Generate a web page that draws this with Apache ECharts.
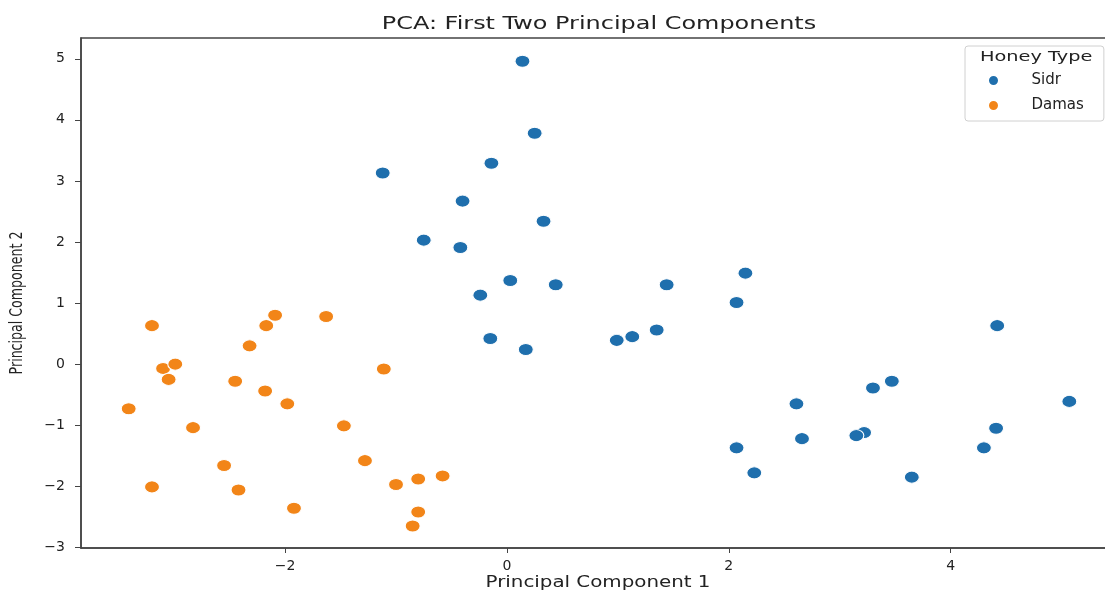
<!DOCTYPE html>
<html>
<head>
<meta charset="utf-8">
<script src="https://cdn.jsdelivr.net/npm/echarts@6/dist/echarts.min.js"></script>
<style>
  html, body { margin: 0; padding: 0; background: #fff; }
  #main { width: 1105px; height: 593px; }
</style>
</head>
<body>
<div id="main"></div>
<script>
  // PCA scores
  var sidrX = [0.14, 0.25, -0.14, -1.12, -0.40, 0.33, -0.75, -0.42, 0.03, 0.44, -0.24, 1.44, 2.15, 2.07, -0.15, 0.17,
               0.99, 1.13, 1.35, 4.42, 3.47, 3.30, 2.61, 5.07, 4.41, 3.22, 3.15, 2.66, 2.07, 4.30, 2.23, 3.65];
  var sidrY = [4.96, 3.78, 3.29, 3.13, 2.67, 2.34, 2.03, 1.91, 1.37, 1.30, 1.13, 1.30, 1.49, 1.01, 0.42, 0.24,
               0.39, 0.45, 0.56, 0.63, -0.28, -0.39, -0.65, -0.61, -1.05, -1.12, -1.17, -1.22, -1.37, -1.37, -1.78, -1.85];
  var damasX = [-3.20, -2.09, -2.17, -1.63, -2.32, -3.10, -2.99, -3.05, -2.45, -2.18, -1.98, -1.11, -3.41,
                -2.83, -1.47, -1.28, -2.55, -3.20, -2.42, -1.00, -0.80, -0.58, -1.92, -0.80, -0.85];
  var damasY = [0.63, 0.80, 0.63, 0.78, 0.30, -0.07, 0.00, -0.25, -0.28, -0.44, -0.65, -0.08, -0.73,
                -1.04, -1.01, -1.58, -1.66, -2.01, -2.06, -1.97, -1.88, -1.83, -2.36, -2.42, -2.65];
  var xTicks = [-2, 0, 2, 4];
  var yTicks = [-3, -2, -1, 0, 1, 2, 3, 4, 5];
  var honeyTypes = ['Sidr', 'Damas'];

  function pairs(xs, ys) {
    return xs.map(function (x, i) { return [x, ys[i]]; });
  }
  function fmt(v) {
    return v < 0 ? '\u2212' + Math.abs(v) : String(v);
  }

  var myChart = echarts.init(document.getElementById('main'));

  var lineCol = '#444';
  var textCol = '#222';

  var option = {
    backgroundColor: '#fff',
    // the source image is stretched sideways, so texts get a scaleX
    graphic: [
      {
        type: 'text', x: 599, y: 24, scaleX: 1.33, z: 100,
        style: { text: 'PCA: First Two Principal Components', font: '18px "DejaVu Sans"',
                 fill: textCol, align: 'center', verticalAlign: 'middle' }
      },
      {
        type: 'text', x: 598, y: 583, scaleX: 1.24, z: 100,
        style: { text: 'Principal Component 1', font: '16px "DejaVu Sans"',
                 fill: textCol, align: 'center', verticalAlign: 'middle' }
      },
      {
        type: 'text', x: 17, y: 303, rotation: Math.PI / 2, scaleY: 1.3, z: 100,
        style: { text: 'Principal Component 2', font: '14px "DejaVu Sans Condensed"',
                 fill: textCol, align: 'center', verticalAlign: 'middle' }
      },
      {
        type: 'text', x: 980, y: 57, scaleX: 1.38, z: 100,
        style: { text: 'Honey Type', font: '14px "DejaVu Sans"',
                 fill: textCol, align: 'left', verticalAlign: 'middle' }
      }
    ],
    legend: {
      data: honeyTypes,
      orient: 'vertical',
      left: 965, top: 46,
      padding: [27, 20, 8, 22],
      itemWidth: 14, itemHeight: 11, itemGap: 10,
      icon: 'circle',
      borderColor: '#d0d0d0', borderWidth: 1, borderRadius: 3,
      backgroundColor: 'rgba(255,255,255,0.8)',
      textStyle: { fontFamily: 'DejaVu Sans', fontSize: 15, color: textCol, padding: [0, 0, 0, 26] }
    },
    grid: {
      left: 81, top: 38, width: 1036, height: 510,
      outerBoundsMode: 'none',
      containLabel: false,
      show: true, borderColor: lineCol, borderWidth: 1.5
    },
    xAxis: {
      type: 'value',
      min: -3.84, max: 5.50,
      splitLine: { show: false },
      axisLine: { show: true, onZero: false, lineStyle: { color: lineCol, width: 1.5 } },
      axisTick: { show: true, length: 5, lineStyle: { color: lineCol }, customValues: xTicks },
      axisLabel: {
        customValues: xTicks, margin: 11, formatter: fmt,
        fontFamily: 'DejaVu Sans', fontSize: 14, color: textCol
      }
    },
    yAxis: {
      type: 'value',
      min: -3.01, max: 5.34,
      splitLine: { show: false },
      axisLine: { show: true, onZero: false, lineStyle: { color: lineCol, width: 1.5 } },
      axisTick: { show: true, length: 6, lineStyle: { color: lineCol }, customValues: yTicks },
      axisLabel: {
        customValues: yTicks, margin: 16, formatter: fmt,
        fontFamily: 'DejaVu Sans', fontSize: 14, color: textCol
      }
    },
    series: [
      {
        name: 'Sidr', type: 'scatter',
        data: pairs(sidrX, sidrY),
        symbolSize: [15, 12],
        itemStyle: { color: '#1f6fad', borderColor: '#fff', borderWidth: 1, opacity: 1 }
      },
      {
        name: 'Damas', type: 'scatter',
        data: pairs(damasX, damasY),
        symbolSize: [15, 12],
        itemStyle: { color: '#f28518', borderColor: '#fff', borderWidth: 1, opacity: 1 }
      }
    ]
  };

  myChart.setOption(option);
</script>
</body>
</html>
